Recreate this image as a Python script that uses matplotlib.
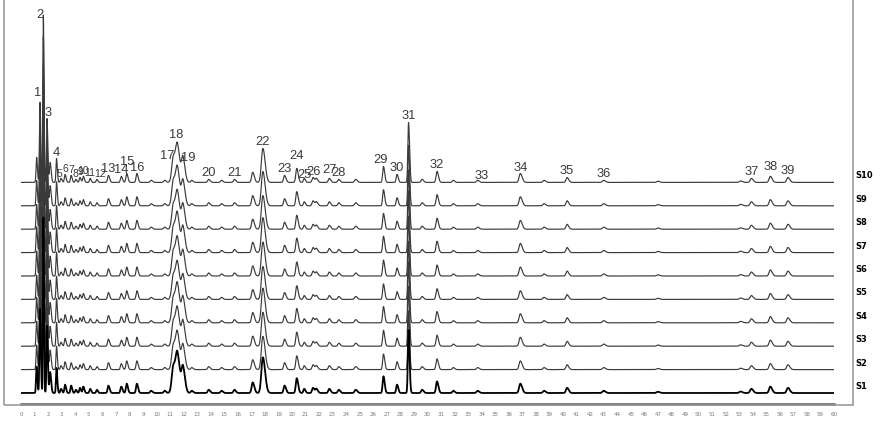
import numpy as np
import matplotlib

matplotlib.use("Agg")
import matplotlib.pyplot as plt
from matplotlib.patches import Rectangle

# retention time (min), height (mAU) and width (sigma, min) of the labelled peaks 1-39
PEAK_TIMES = [1.40, 1.65, 1.92, 2.62, 2.95, 3.25, 3.70, 4.05, 4.35, 4.60,
              5.10, 5.60, 6.45, 7.40, 7.80, 8.55, 11.25, 11.55, 11.95, 13.85,
              15.75, 17.85, 19.45, 20.35, 20.90, 21.55, 22.75, 23.45, 26.75, 27.75,
              28.60, 30.70, 33.70, 36.85, 40.30, 43.00, 53.90, 55.30, 56.60]
PEAK_HEIGHTS = [342, 715, 273, 102, 17, 34, 30, 13, 21, 26,
                17, 13, 30, 26, 38, 38, 111, 141, 102, 13,
                13, 145, 30, 60, 17, 21, 17, 13, 68, 34,
                256, 47, 9, 38, 21, 9, 17, 26, 21]
PEAK_WIDTHS = [0.04, 0.03, 0.04, 0.04, 0.05, 0.05, 0.05, 0.05, 0.05, 0.05,
               0.05, 0.05, 0.06, 0.06, 0.06, 0.06, 0.12, 0.12, 0.10, 0.07,
               0.07, 0.11, 0.07, 0.07, 0.06, 0.07, 0.07, 0.07, 0.06, 0.06,
               0.05, 0.07, 0.08, 0.09, 0.08, 0.09, 0.09, 0.09, 0.09]

# smaller unlabelled peaks
MINOR_TIMES = [1.15, 2.15, 9.6, 10.6, 12.6, 14.8, 17.1, 21.8, 24.7, 29.6,
               31.9, 38.6, 47.0, 53.1]
MINOR_HEIGHTS = [107, 85, 9, 9, 9, 9, 43, 17, 13, 13,
                 9, 9, 5, 6]
MINOR_WIDTHS = [0.04, 0.05, 0.07, 0.07, 0.07, 0.07, 0.08, 0.07, 0.08, 0.07,
                0.07, 0.08, 0.09, 0.09]

SAMPLES = ["S1", "S2", "S3", "S4", "S5", "S6", "S7", "S8", "S9", "S10"]
SAMPLE_SCALE = [1.05, 0.98, 1.00, 1.02, 0.97, 1.00, 1.03, 0.99, 1.01, 1.00]
OFFSET = 100  # vertical shift between stacked traces (mAU)

X_TICKS = list(range(0, 61))


def chromatogram(t, times, heights, widths, scale):
    y = np.zeros_like(t)
    for t0, h, s in zip(times, heights, widths):
        sig = np.where(t < t0, s, 1.5 * s)  # a little tailing
        y += scale * h * np.exp(-0.5 * ((t - t0) / sig) ** 2)
    return y


def main():
    W, H = 893, 433
    fig = plt.figure(figsize=(W / 100, H / 100), dpi=100)
    px = OFFSET / 23.4  # mAU per pixel
    ax = fig.add_axes([21 / W, (H - 404) / H, (834 - 21) / W, 404 / H])
    ax.set_xlim(0, 60)
    ax.set_ylim(-11 * px, 393 * px)

    t = np.linspace(0, 60, 24001)
    times = PEAK_TIMES + MINOR_TIMES
    heights = PEAK_HEIGHTS + MINOR_HEIGHTS
    widths = PEAK_WIDTHS + MINOR_WIDTHS

    top_trace = None
    for i in range(len(SAMPLES) - 1, -1, -1):
        y = chromatogram(t, times, heights, widths, SAMPLE_SCALE[i]) + i * OFFSET
        if i == 0:
            ax.plot(t, y, color="black", lw=1.3, zorder=3)
        else:
            ax.plot(t, y, color="#3a3a3a", lw=0.85, zorder=2)
        if i == len(SAMPLES) - 1:
            top_trace = y
        ax.text(61.6, i * OFFSET + 28, SAMPLES[i], fontsize=6, fontweight="bold",
                ha="left", va="center", clip_on=False)

    # peak numbers above the top trace: (dx in min, dy in px) tweaks for crowded ones
    nudge = {1: (-0.2, 3), 2: (-0.25, -6), 3: (0.1, 0), 15: (0, 6), 17: (-0.45, -8),
             18: (-0.1, 1), 19: (0.4, -9), 24: (0, 6), 25: (0, -3), 26: (0, -1),
             27: (0, 2), 29: (-0.2, 0), 38: (0, 3), 33: (0.3, -2),
             5: (-0.1, -1), 12: (0.2, 0)}
    for k, t0 in enumerate(PEAK_TIMES, start=1):
        win = (t > t0 - 0.05) & (t < t0 + 0.05)
        dx, dy = nudge.get(k, (0, 0))
        ytop = top_trace[win].max() + dy * px
        size = 7.5 if 5 <= k <= 12 else 9.3
        ax.text(t0 + dx, ytop, str(k), fontsize=size, family="Liberation Sans",
                color="#3a3a3a", ha="center", va="bottom", zorder=4)

    for side in ("left", "top", "right"):
        ax.spines[side].set_visible(False)
    ax.spines["bottom"].set_color("#555555")
    ax.spines["bottom"].set_linewidth(1.8)
    ax.set_yticks([])
    ax.set_xticks(X_TICKS)
    ax.set_xticklabels([str(v) for v in X_TICKS])
    ax.tick_params(axis="x", length=0, pad=6, labelsize=4, labelcolor="#777777")
    ax.patch.set_visible(False)

    fig.add_artist(Rectangle((4 / W, (H - 405) / H), (853 - 4) / W, 1.0,
                             transform=fig.transFigure, fill=False,
                             ec="#9a9a9a", lw=1.2))
    fig.savefig("out.png", dpi=100)
    plt.close(fig)


if __name__ == "__main__":
    main()
